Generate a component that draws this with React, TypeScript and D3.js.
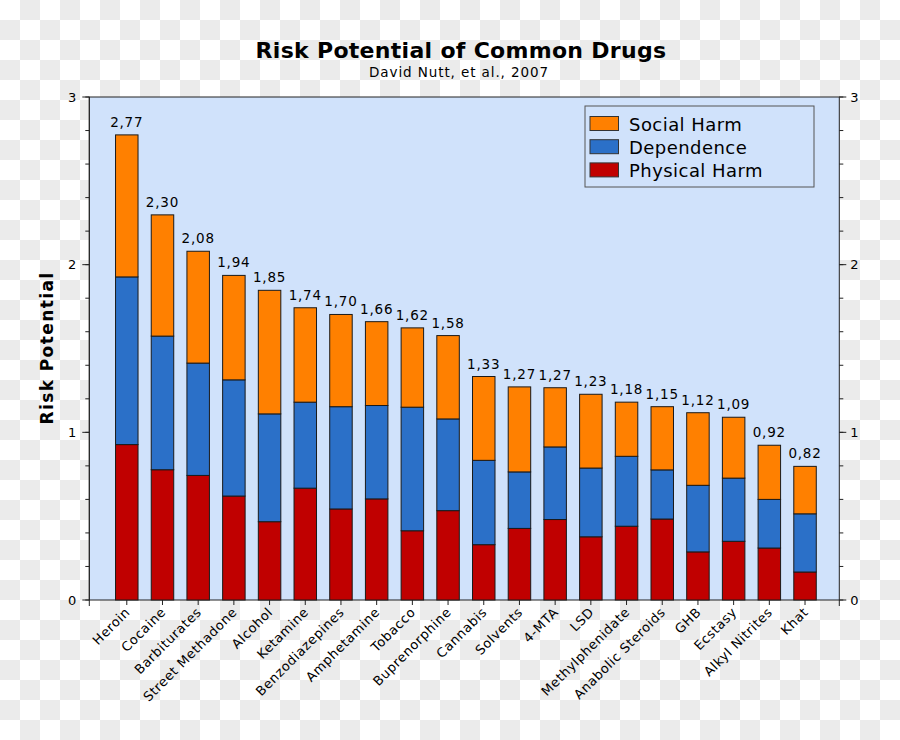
import React from "react";
import * as d3 from "d3";

const drugs = [
  "Heroin", "Cocaine", "Barbiturates", "Street Methadone", "Alcohol", "Ketamine",
  "Benzodiazepines", "Amphetamine", "Tobacco", "Buprenorphine", "Cannabis", "Solvents",
  "4-MTA", "LSD", "Methylphenidate", "Anabolic Steroids", "GHB", "Ecstasy",
  "Alkyl Nitrites", "Khat",
];
const physicalHarm = [0.927, 0.777, 0.743, 0.62, 0.467, 0.667, 0.543, 0.603, 0.413, 0.533, 0.33, 0.427, 0.48, 0.377, 0.44, 0.483, 0.287, 0.35, 0.31, 0.167];
const dependence = [1.0, 0.797, 0.67, 0.693, 0.643, 0.513, 0.61, 0.557, 0.737, 0.547, 0.503, 0.337, 0.433, 0.41, 0.417, 0.293, 0.397, 0.377, 0.29, 0.347];
const socialHarm = [0.847, 0.723, 0.667, 0.623, 0.737, 0.563, 0.55, 0.5, 0.473, 0.497, 0.5, 0.507, 0.353, 0.44, 0.323, 0.377, 0.433, 0.363, 0.323, 0.283];
const totalLabels = ["2,77", "2,30", "2,08", "1,94", "1,85", "1,74", "1,70", "1,66", "1,62", "1,58", "1,33", "1,27", "1,27", "1,23", "1,18", "1,15", "1,12", "1,09", "0,92", "0,82"];
const majorTicks = [0, 1, 2, 3];
const minorTicks = d3.range(0, 3.0001, 0.2);
const seriesNames = ["Social Harm", "Dependence", "Physical Harm"];
const seriesColors = ["#ff8000", "#2b70c8", "#c00000"];

const FONT = "'DejaVu Sans', Verdana, sans-serif";

export default function App() {
  const left = 89.3, right = 839.3, top = 97, bottom = 600;
  const x = d3.scaleLinear().domain([-1.05, 19.96]).range([left, right]);
  const y = d3.scaleLinear().domain([0, 3]).range([bottom, top]);
  const step = x(1) - x(0);
  const bw = step * 0.63;

  const rows = drugs.map((name, i) => ({
    name,
    physical: physicalHarm[i],
    dependence: dependence[i],
    social: socialHarm[i],
  }));
  const stack = d3.stack<any>().keys(["physical", "dependence", "social"]);
  const stacked = stack(rows);
  const colorByKey: Record<string, string> = {
    physical: seriesColors[2],
    dependence: seriesColors[1],
    social: seriesColors[0],
  };

  return (
    <svg
      width={900}
      height={740}
      style={{ position: "absolute", left: 0, top: 0, fontFamily: FONT }}
    >
      <defs>
        <pattern id="checker" width={40} height={40} patternUnits="userSpaceOnUse">
          <rect width={40} height={40} fill="#ffffff" />
          <rect x={20} y={0} width={20} height={20} fill="#ebebeb" />
          <rect x={0} y={20} width={20} height={20} fill="#ebebeb" />
        </pattern>
      </defs>
      <rect width={900} height={740} fill="url(#checker)" />

      <text x={461} y={58} textAnchor="middle" fontSize={22} fontWeight="bold" letterSpacing={0.3} fill="#000">
        Risk Potential of Common Drugs
      </text>
      <text x={459} y={77} textAnchor="middle" fontSize={13.5} letterSpacing={0.9} fill="#000">
        David Nutt, et al., 2007
      </text>

      <rect x={left} y={top} width={right - left} height={bottom - top} fill="#d0e2fb" stroke="#222" strokeWidth={1} />

      {stacked.map((layer) => (
        <g key={layer.key}>
          {layer.map((d, i) => (
            <rect
              key={i}
              x={x(i) - bw / 2}
              y={y(d[1])}
              width={bw}
              height={y(d[0]) - y(d[1])}
              fill={colorByKey[layer.key]}
              stroke="#1a1a1a"
              strokeWidth={1}
            />
          ))}
        </g>
      ))}

      {rows.map((r, i) => (
        <text
          key={r.name}
          x={x(i)}
          y={y(r.physical + r.dependence + r.social) - 8}
          textAnchor="middle"
          fontSize={13.5}
          letterSpacing={0.8}
          fill="#000"
        >
          {totalLabels[i]}
        </text>
      ))}

      {/* left axis */}
      <line x1={left} x2={left} y1={top} y2={bottom} stroke="#222" />
      {minorTicks.map((t) => (
        <g key={"ml" + t}>
          <line x1={left - 4} x2={left} y1={y(t)} y2={y(t)} stroke="#222" />
          <line x1={right} x2={right + 4} y1={y(t)} y2={y(t)} stroke="#222" />
        </g>
      ))}
      {majorTicks.map((t) => (
        <g key={"mj" + t}>
          <line x1={left - 7} x2={left} y1={y(t)} y2={y(t)} stroke="#222" />
          <line x1={right} x2={right + 7} y1={y(t)} y2={y(t)} stroke="#222" />
          <text x={left - 13} y={y(t)} dy="0.35em" textAnchor="end" fontSize={13} fill="#000">
            {t}
          </text>
          <text x={right + 11} y={y(t)} dy="0.35em" textAnchor="start" fontSize={13} fill="#000">
            {t}
          </text>
        </g>
      ))}

      {/* bottom axis */}
      <line x1={left} x2={left} y1={bottom} y2={bottom + 6} stroke="#222" />
      <line x1={right} x2={right} y1={bottom} y2={bottom + 6} stroke="#222" />
      {drugs.map((name, i) => (
        <g key={"xt" + name}>
          <line x1={x(i)} x2={x(i)} y1={bottom} y2={bottom + 5} stroke="#222" />
          <text
            transform={`translate(${x(i) + 4},${bottom + 13}) rotate(-45)`}
            textAnchor="end"
            fontSize={13}
            letterSpacing={0.6}
            fill="#000"
          >
            {name}
          </text>
        </g>
      ))}

      <text
        transform={`translate(53,348) rotate(-90)`}
        textAnchor="middle"
        fontSize={17}
        fontWeight="bold"
        letterSpacing={1.4}
        fill="#000"
      >
        Risk Potential
      </text>

      {/* legend */}
      <rect x={585} y={106} width={229} height={81} fill="#d0e2fb" stroke="#555" strokeWidth={1} />
      {seriesNames.map((s, i) => (
        <g key={s}>
          <rect x={590} y={116.5 + i * 23.2} width={28.5} height={14} fill={seriesColors[i]} stroke="#333" strokeWidth={1} />
          <text x={629} y={130.5 + i * 23.2} fontSize={18} letterSpacing={0.45} fill="#000">
            {s}
          </text>
        </g>
      ))}
    </svg>
  );
}
